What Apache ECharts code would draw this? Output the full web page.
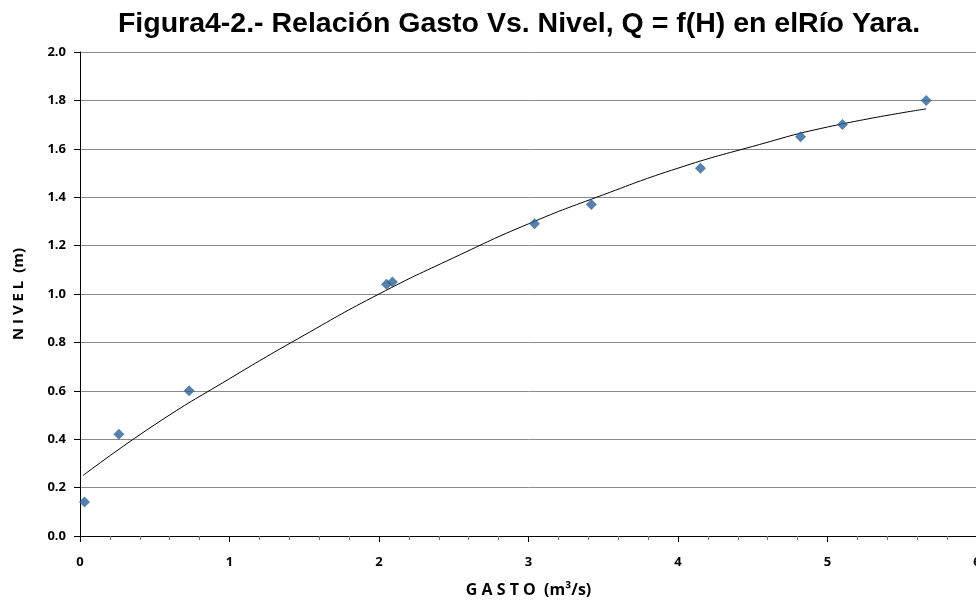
<!DOCTYPE html>
<html>
<head>
<meta charset="utf-8">
<script src="https://cdn.jsdelivr.net/npm/echarts@6/dist/echarts.min.js"></script>
<style>
html,body{margin:0;padding:0;background:#fff;}
#chart{width:976px;height:609px;}
</style>
</head>
<body>
<div id="chart"></div>
<script>
// Measured points: gasto (m3/s) and nivel (m)
const gasto = [0.03, 0.26, 0.73, 2.05, 2.09, 3.04, 3.42, 4.15, 4.82, 5.10, 5.66];
const nivel = [0.14, 0.42, 0.60, 1.04, 1.05, 1.29, 1.37, 1.52, 1.65, 1.70, 1.80];
// Trendline
const trendX = [0.02, 0.5, 1.0, 1.5, 2.0, 2.5, 3.0, 3.5, 4.0, 4.5, 5.0, 5.66];
const trendY = [0.25, 0.46, 0.65, 0.83, 1.00, 1.15, 1.29, 1.41, 1.52, 1.61, 1.69, 1.765];
const xTicks = [0, 1, 2, 3, 4, 5, 6];
const yTicks = [0.0, 0.2, 0.4, 0.6, 0.8, 1.0, 1.2, 1.4, 1.6, 1.8, 2.0];

const titleText = 'Figura4-2.- Relación Gasto Vs. Nivel, Q = f(H) en elRío Yara.';
const xName = 'G A S T O  (m³/s)';
const yName = 'N I V E L  (m)';

const chart = echarts.init(document.getElementById('chart'), null, {renderer: 'canvas'});
const labelFont = {color: '#000', fontFamily: 'Open Sans', fontWeight: 'bold', fontSize: 13};

chart.setOption({
  animation: false,
  backgroundColor: '#fff',
  title: {
    text: titleText,
    left: 514, top: 5,
    textAlign: 'center',
    textStyle: {fontFamily: 'Liberation Sans', fontWeight: 'bold', fontSize: 28.5, color: '#000'}
  },
  grid: {left: 80, top: 52, width: 897, height: 484, containLabel: false, outerBoundsMode: 'none'},
  xAxis: {
    type: 'value', min: xTicks[0], max: xTicks[xTicks.length - 1], interval: 1,
    name: xName, nameLocation: 'middle', nameGap: 46,
    nameTextStyle: {color: '#000', fontFamily: 'Open Sans', fontWeight: 'bold', fontSize: 16},
    axisLine: {show: true, lineStyle: {color: '#000', width: 1}},
    axisTick: {show: true, length: 6, lineStyle: {color: '#000'}},
    minorTick: {show: true, splitNumber: 5, length: 4, lineStyle: {color: '#777'}},
    splitLine: {show: false},
    axisLabel: Object.assign({margin: 20, showMaxLabel: true}, labelFont)
  },
  yAxis: {
    type: 'value', min: yTicks[0], max: yTicks[yTicks.length - 1], interval: 0.2,
    name: yName, nameLocation: 'middle', nameGap: 54, nameRotate: 90,
    nameTextStyle: {color: '#000', fontFamily: 'Open Sans', fontWeight: 'bold', fontSize: 15},
    axisLine: {show: true, lineStyle: {color: '#000', width: 1}},
    axisTick: {show: true, length: 6, lineStyle: {color: '#000'}},
    splitLine: {show: true, lineStyle: {color: '#8a8a8a', width: 1}},
    axisLabel: Object.assign({margin: 14, formatter: v => v.toFixed(1)}, labelFont)
  },
  series: [
    {
      type: 'line',
      data: trendX.map((x, i) => [x, trendY[i]]),
      smooth: true,
      showSymbol: false,
      lineStyle: {color: '#000', width: 1},
      z: 2
    },
    {
      type: 'scatter',
      data: gasto.map((x, i) => [x, nivel[i]]),
      symbol: 'diamond',
      symbolSize: 11,
      itemStyle: {color: '#2a6296'},
      z: 3
    }
  ]
});
</script>
</body>
</html>
